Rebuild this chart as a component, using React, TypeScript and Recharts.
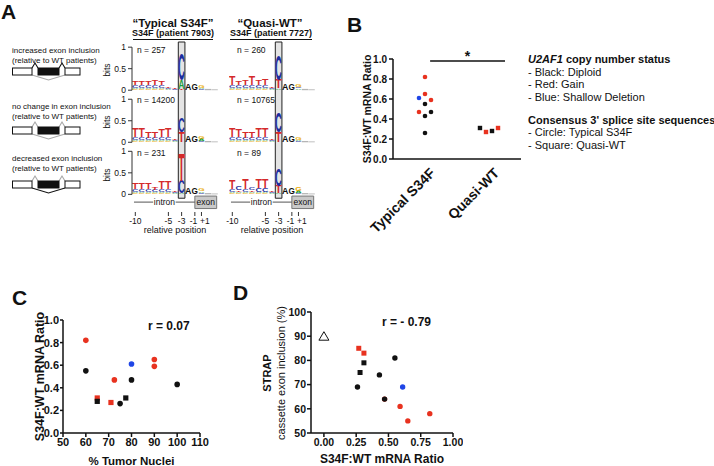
import React from 'react';
import {
  ComposedChart, Bar, XAxis, YAxis, ReferenceArea, ReferenceLine,
  ScatterChart, Scatter,
} from 'recharts';

const FONT = '"Liberation Sans", Arial, Helvetica, sans-serif';
const INK = '#111111';
const RED = '#e8321f';
const BLUE = '#1f45e6';

// ---------------- Panel A: sequence logos ----------------
const logoPositions = [-10, -9, -8, -7, -6, -5, -4, -3, -2, -1, 1, 2, 3];
const logoTickPositions = [-10, -5, -3, -1, 1];
const bitsTicks = [0, 0.5, 1];
type Stack = [string, number][];

// each stack: bottom -> top, [letter, bits]; lowercase = constant AG, n = minor (gray)
const typicalIncreased: Stack[] = [
  [['G', 0.02], ['A', 0.03], ['C', 0.07], ['T', 0.09]],
  [['G', 0.02], ['A', 0.03], ['C', 0.07], ['T', 0.10]],
  [['G', 0.02], ['A', 0.03], ['C', 0.07], ['T', 0.09]],
  [['G', 0.02], ['A', 0.03], ['C', 0.07], ['T', 0.11]],
  [['G', 0.02], ['A', 0.03], ['C', 0.06], ['T', 0.10]],
  [['G', 0.01], ['A', 0.02], ['C', 0.03], ['T', 0.03]],
  [['A', 0.01], ['C', 0.02], ['T', 0.02]],
  [['T', 0.02], ['A', 0.22], ['C', 0.62]],
  [['a', 0.15]],
  [['g', 0.15]],
  [['C', 0.02], ['A', 0.03], ['G', 0.05]],
  [['n', 0.03]],
  [['n', 0.02]],
];
const typicalNoChange: Stack[] = [
  [['G', 0.02], ['A', 0.03], ['C', 0.07], ['T', 0.20]],
  [['G', 0.02], ['A', 0.03], ['C', 0.07], ['T', 0.20]],
  [['G', 0.02], ['A', 0.03], ['C', 0.06], ['T', 0.14]],
  [['G', 0.02], ['A', 0.03], ['C', 0.06], ['T', 0.14]],
  [['G', 0.02], ['A', 0.03], ['C', 0.07], ['T', 0.18]],
  [['G', 0.02], ['A', 0.03], ['C', 0.07], ['T', 0.20]],
  [['G', 0.01], ['A', 0.02], ['C', 0.02], ['T', 0.03]],
  [['A', 0.01], ['T', 0.24], ['C', 0.33]],
  [['a', 0.15]],
  [['g', 0.15]],
  [['C', 0.02], ['A', 0.05], ['G', 0.07]],
  [['n', 0.03]],
  [['n', 0.02]],
];
const typicalDecreased: Stack[] = [
  [['G', 0.02], ['A', 0.03], ['C', 0.07], ['T', 0.16]],
  [['G', 0.02], ['A', 0.03], ['C', 0.07], ['T', 0.14]],
  [['G', 0.02], ['A', 0.03], ['C', 0.07], ['T', 0.16]],
  [['G', 0.02], ['A', 0.03], ['C', 0.06], ['T', 0.05]],
  [['G', 0.02], ['A', 0.03], ['C', 0.07], ['T', 0.18]],
  [['G', 0.02], ['A', 0.03], ['C', 0.07], ['T', 0.19]],
  [['G', 0.01], ['A', 0.02], ['C', 0.03], ['T', 0.03]],
  [['A', 0.02], ['C', 0.30], ['T', 0.65]],
  [['a', 0.15]],
  [['g', 0.15]],
  [['C', 0.03], ['A', 0.04], ['G', 0.06]],
  [['n', 0.03]],
  [['n', 0.02]],
];
const quasiIncreased: Stack[] = [
  [['G', 0.02], ['A', 0.03], ['C', 0.07], ['T', 0.20]],
  [['G', 0.02], ['A', 0.03], ['C', 0.07], ['T', 0.10]],
  [['G', 0.02], ['A', 0.03], ['C', 0.07], ['T', 0.12]],
  [['G', 0.02], ['A', 0.03], ['C', 0.07], ['T', 0.20]],
  [['G', 0.02], ['A', 0.03], ['C', 0.07], ['T', 0.12]],
  [['G', 0.02], ['A', 0.03], ['C', 0.07], ['T', 0.16]],
  [['G', 0.01], ['A', 0.02], ['C', 0.02], ['T', 0.03]],
  [['A', 0.04], ['T', 0.20], ['C', 0.58]],
  [['a', 0.15]],
  [['g', 0.15]],
  [['A', 0.04], ['C', 0.03], ['G', 0.07]],
  [['n', 0.03]],
  [['n', 0.02]],
];
const quasiNoChange: Stack[] = [
  [['G', 0.02], ['A', 0.03], ['C', 0.07], ['T', 0.20]],
  [['G', 0.02], ['A', 0.03], ['C', 0.07], ['T', 0.18]],
  [['G', 0.02], ['A', 0.03], ['C', 0.06], ['T', 0.14]],
  [['G', 0.02], ['A', 0.03], ['C', 0.06], ['T', 0.14]],
  [['G', 0.02], ['A', 0.03], ['C', 0.07], ['T', 0.20]],
  [['G', 0.02], ['A', 0.03], ['C', 0.07], ['T', 0.20]],
  [['G', 0.01], ['A', 0.02], ['C', 0.02], ['T', 0.03]],
  [['A', 0.01], ['T', 0.24], ['C', 0.45]],
  [['a', 0.15]],
  [['g', 0.15]],
  [['C', 0.02], ['A', 0.04], ['G', 0.07]],
  [['n', 0.03]],
  [['n', 0.02]],
];
const quasiDecreased: Stack[] = [
  [['G', 0.02], ['A', 0.03], ['C', 0.07], ['T', 0.20]],
  [['G', 0.02], ['A', 0.03], ['T', 0.04], ['C', 0.08]],
  [['G', 0.02], ['A', 0.03], ['C', 0.07], ['T', 0.25]],
  [['G', 0.02], ['A', 0.03], ['T', 0.04], ['C', 0.07]],
  [['G', 0.02], ['A', 0.03], ['C', 0.10], ['T', 0.20]],
  [['G', 0.02], ['A', 0.03], ['C', 0.10], ['T', 0.20]],
  [['G', 0.01], ['A', 0.02], ['C', 0.02], ['T', 0.03]],
  [['A', 0.02], ['T', 0.18], ['C', 0.40]],
  [['a', 0.15]],
  [['g', 0.15]],
  [['C', 0.03], ['A', 0.05], ['G', 0.08]],
  [['n', 0.03]],
  [['n', 0.02]],
];
const typicalCounts = ['n = 257', 'n = 14200', 'n = 231'];
const quasiCounts = ['n = 260', 'n = 10765', 'n = 89'];
const exonRowLabels = [
  ['increased exon inclusion', '(relative to WT patients)'],
  ['no change in exon inclusion', '(relative to WT patients)'],
  ['decreased exon inclusion', '(relative to WT patients)'],
];

// ---------------- Panels B-D: per-sample values ----------------
const sampleRatio = [0.82, 0.65, 0.61, 0.59, 0.55, 0.47, 0.47, 0.43, 0.26, 0.31, 0.27, 0.31, 0.28];
const sampleCopy = ['gain', 'gain', 'shallow', 'gain', 'diploid', 'gain', 'diploid', 'diploid', 'diploid', 'diploid', 'gain', 'gain', 'diploid'];
const sampleClass = ['typical', 'typical', 'typical', 'typical', 'typical', 'typical', 'typical', 'typical', 'typical', 'quasi', 'quasi', 'quasi', 'quasi'];
const sampleColumnSlot = [0, 0, -1, 1, 0, -1, 1, 0, 0, -1.5, -0.5, 1.5, 0.5];
const sampleTumorNuclei = [60, 90, 80, 90, 60, 72.5, 80, 100, 75, 77.5, 71, 65, 65];
const sampleStrapInclusion = [58, 55, 69, 61, 81, 64, 64, 74, 69, 79, 85, 83, 75];
const wtReference = [{ x: 0, y: 90 }];
const bCategories = ['Typical S34F', 'Quasi-WT'];
const ratioTicks = [0, 0.2, 0.4, 0.6, 0.8, 1.0];
const nucleiTicks = [50, 60, 70, 80, 90, 100, 110];
const strapTicks = [50, 60, 70, 80, 90, 100];
const ratioTicksD = [0, 0.25, 0.5, 0.75, 1.0];

const copyColor = (c: string) => (c === 'gain' ? RED : c === 'shallow' ? BLUE : INK);

// ---------------- Logo helpers ----------------
const ROW_STEP = 1.21;
const MAXL = 4;
const toIdx = (p: number) => (p < 0 ? p : p - 1);
const LETTER_COLOR: Record<string, string> = { A: '#1f9e3a', C: '#1c2d9e', G: '#e9a800', T: '#d42a2a' };
const ADV: Record<string, number> = { A: 0.722, C: 0.722, G: 0.778, T: 0.611 };

function buildLogoTable(rowsTopDown: Stack[][]) {
  const rows = [...rowsTopDown].reverse();
  return logoPositions.map((pos, i) => {
    const e: any = { idx: toIdx(pos) };
    rows.forEach((row, r) => {
      const st = row[i];
      let sum = 0;
      for (let k = 0; k < MAXL; k++) {
        const it = st[k];
        e[`h${r}_${k}`] = it ? it[1] : 0;
        e[`l${r}_${k}`] = it ? it[0] : '';
        sum += it ? it[1] : 0;
      }
      if (r < rows.length - 1) e[`gap${r}`] = ROW_STEP - sum;
    });
    return e;
  });
}

function Glyph({ x, y, w, h, letter }: any) {
  if (letter === 'n') return <rect x={x} y={y} width={w} height={h} fill="#b5b5b5" />;
  const up = letter.toUpperCase();
  const color = letter === up ? LETTER_COLOR[up] : INK;
  const sx = w / (ADV[up] * 100);
  const sy = h / (0.716 * 100);
  return (
    <text
      transform={`translate(${x},${y + h}) scale(${sx},${sy})`}
      fontSize={100}
      fontWeight="bold"
      fontFamily={FONT}
      fill={color}
    >
      {up}
    </text>
  );
}

const makeLetterShape = (r: number, k: number) => (props: any) => {
  const { x, y, width, height, payload } = props;
  const L = payload ? payload[`l${r}_${k}`] : '';
  if (!L || !(height > 0.3)) return <g />;
  return <Glyph x={x} y={y} w={width} h={height} letter={L} />;
};

const PosTick = (props: any) => {
  const { x, y, payload } = props;
  const v = payload.value;
  const label = v >= 0 ? `+${v + 1}` : `${v}`;
  let anchor: any = 'middle';
  let dx = 0;
  if (v === -1) { anchor = 'end'; dx = 2.5; }
  if (v === 0) { anchor = 'start'; dx = -1.5; }
  return (
    <text x={x + dx} y={y} dy="0.71em" textAnchor={anchor} fontSize={8.5} fill={INK} fontFamily={FONT}>
      {label}
    </text>
  );
};

const baselines = [0, ROW_STEP, ROW_STEP * 2];

function LogoColumn({ rows, withAxis, left }: { rows: Stack[][]; withAxis: boolean; left: number }) {
  const data = buildLogoTable(rows);
  const yAxisW = withAxis ? 32 : 0;
  const marginLeft = withAxis ? 0 : 8;
  const width = marginLeft + yAxisW + 86 + 7;
  const bars: React.ReactNode[] = [];
  for (let r = 0; r < 3; r++) {
    for (let k = 0; k < MAXL; k++) {
      bars.push(
        <Bar key={`b${r}_${k}`} dataKey={`h${r}_${k}`} stackId="logo" barSize={6.4}
          isAnimationActive={false} shape={makeLetterShape(r, k)} />
      );
    }
    if (r < 2) {
      bars.push(
        <Bar key={`gap${r}`} dataKey={`gap${r}`} stackId="logo" barSize={6.4}
          isAnimationActive={false} shape={() => <g />} />
      );
    }
  }
  const yTicks = baselines.flatMap((b) => bitsTicks.map((t) => +(b + t).toFixed(3)));
  return (
    <div style={{ position: 'absolute', left: left - marginLeft, top: 36 }}>
      <ComposedChart width={width} height={202} data={data} margin={{ top: 6, right: 7, bottom: 0, left: marginLeft }}>
        <XAxis dataKey="idx" type="number" domain={[-10.5, 2.5]} allowDataOverflow
          ticks={logoTickPositions.map(toIdx)} interval={0} tick={<PosTick />}
          tickLine={{ stroke: '#333' }} tickSize={4} tickMargin={2} axisLine={false} height={26}
          label={{ value: 'relative position', position: 'insideBottom', offset: 5, fontSize: 9, fill: INK, fontFamily: FONT }} />
        <YAxis type="number" domain={[-0.41, 3.54]} allowDataOverflow hide={!withAxis} width={yAxisW}
          ticks={yTicks} interval={0} tickFormatter={(v: any, i: number) => String(bitsTicks[i % 3])}
          tickSize={4} tickMargin={2} axisLine={false} tickLine={{ stroke: '#333' }}
          tick={{ fontSize: 8.5, fill: INK, fontFamily: FONT }} />
        <ReferenceArea x1={-3.5} x2={-2.5} y1={-0.09} y2={3.54} fill="#e4e4e4" fillOpacity={1}
          stroke="#222" strokeWidth={1} ifOverflow="visible" />
        {bars}
        {withAxis && baselines.map((b, i) => (
          <ReferenceLine key={`ax${i}`} segment={[{ x: -10.5, y: b }, { x: -10.5, y: b + 1 }]}
            stroke="#333" strokeWidth={1} ifOverflow="visible" />
        ))}
        <ReferenceLine segment={[{ x: -10.2, y: -0.18 }, { x: -7.3, y: -0.18 }]} stroke="#555" strokeWidth={1} ifOverflow="visible" />
        <ReferenceLine segment={[{ x: -3.9, y: -0.18 }, { x: -1.0, y: -0.18 }]} stroke="#555" strokeWidth={1} ifOverflow="visible" />
        <ReferenceArea x1={-7.3} x2={-3.9} y1={-0.3} y2={-0.06} fill="none" stroke="none" ifOverflow="visible"
          label={{ value: 'intron', position: 'center', fontSize: 8.5, fill: INK, fontFamily: FONT }} />
        <ReferenceArea x1={-1.0} x2={2.3} y1={-0.33} y2={-0.04} fill="#c9c9c9" fillOpacity={1} stroke="#777"
          strokeWidth={1} ifOverflow="visible"
          label={{ value: 'exon', position: 'center', fontSize: 8.5, fill: INK, fontFamily: FONT }} />
      </ComposedChart>
    </div>
  );
}

// ---------------- Scatter helpers ----------------
const samples = sampleRatio.map((v, i) => ({
  ratio: v,
  copy: sampleCopy[i],
  cls: sampleClass[i],
  slot: sampleColumnSlot[i],
  nuclei: sampleTumorNuclei[i],
  strap: sampleStrapInclusion[i],
}));
const SLOT_W = 0.094;
const bPoints = samples.map((s) => ({
  x: (s.cls === 'typical' ? 0.5 : 1.5) + s.slot * SLOT_W,
  y: s.ratio, copy: s.copy, cls: s.cls,
}));
const cPoints = samples.map((s) => ({ x: s.nuclei, y: s.ratio, copy: s.copy, cls: s.cls }));
const dPoints = samples.map((s) => ({ x: s.ratio, y: s.strap, copy: s.copy, cls: s.cls }));

const makeMarker = (r: number, sq: number) => (props: any) => {
  const { cx, cy, payload } = props;
  const fill = copyColor(payload.copy);
  if (payload.cls === 'quasi') {
    return <rect x={cx - sq / 2} y={cy - sq / 2} width={sq} height={sq} fill={fill} />;
  }
  return <circle cx={cx} cy={cy} r={r} fill={fill} />;
};

const Triangle = (props: any) => {
  const { cx, cy } = props;
  return <polygon points={`${cx},${cy - 4.5} ${cx - 5},${cy + 4} ${cx + 5},${cy + 4}`} fill="#fff" stroke={INK} strokeWidth={1} />;
};

const axisStroke = { stroke: INK, strokeWidth: 1.5 };
const boldTick = (size: number) => ({ fontSize: size, fontWeight: 'bold', fill: INK, fontFamily: FONT });

// ---------------- Text overlay helpers ----------------
function Txt({ x, y, size, bold, italic, anchor, children }: any) {
  const top = y - 0.846 * size;
  return (
    <div style={{
      position: 'absolute', left: x, top, fontSize: size, lineHeight: 1,
      fontWeight: bold ? 'bold' : 'normal', fontStyle: italic ? 'italic' : 'normal',
      whiteSpace: 'nowrap', color: INK, fontFamily: FONT,
      transform: anchor === 'middle' ? 'translateX(-50%)' : undefined,
    }}>
      {children}
    </div>
  );
}
function RotTxt({ cx, cy, size, bold, children }: any) {
  return (
    <div style={{
      position: 'absolute', left: cx, top: cy, fontSize: size, lineHeight: 1,
      fontWeight: bold ? 'bold' : 'normal', whiteSpace: 'nowrap', color: INK, fontFamily: FONT,
      transform: 'translate(-50%, -50%) rotate(-90deg)',
    }}>
      {children}
    </div>
  );
}

function ExonDiagrams() {
  const tops = [68, 127, 181];
  const incl = [INK, '#a8a8a8', '#a8a8a8'];
  const skip = ['#a8a8a8', '#a8a8a8', INK];
  return (
    <svg width={100} height={200} style={{ position: 'absolute', left: 0, top: 0 }}>
      {tops.map((t, i) => (
        <g key={i}>
          <polyline points={`32,${t} 35,${t - 5} 38,${t}`} fill="none" stroke={incl[i]} strokeWidth={1.1} />
          <polyline points={`59,${t} 62,${t - 5} 65,${t}`} fill="none" stroke={incl[i]} strokeWidth={1.1} />
          <polyline points={`32,${t + 7} 48.5,${t + 12} 65,${t + 7}`} fill="none" stroke={skip[i]} strokeWidth={1.1} />
          <rect x={12.5} y={t} width={19.5} height={7} fill="#fff" stroke={INK} strokeWidth={1} />
          <rect x={38} y={t} width={21} height={7} fill={INK} stroke={INK} strokeWidth={1} />
          <rect x={65} y={t} width={15} height={7} fill="#fff" stroke={INK} strokeWidth={1} />
        </g>
      ))}
    </svg>
  );
}

export default function App() {
  const leftBase = [54, 109.5, 162];
  const countBase = [53, 103.5, 156];
  return (
    <div style={{ position: 'absolute', left: 0, top: 0, width: 714, height: 466, background: '#fff', overflow: 'hidden', fontFamily: FONT }}>
      {/* Panel A */}
      <ExonDiagrams />
      <LogoColumn rows={[typicalIncreased, typicalNoChange, typicalDecreased]} withAxis left={100} />
      <LogoColumn rows={[quasiIncreased, quasiNoChange, quasiDecreased]} withAxis={false} left={229} />

      {/* Panel B */}
      <div style={{ position: 'absolute', left: 340, top: 40 }}>
        <ScatterChart width={190} height={199} margin={{ top: 19, right: 9, bottom: 0, left: 0 }}>
          <XAxis type="number" dataKey="x" domain={[0, 2]} ticks={[0.5, 1.5]} interval={0}
            tickFormatter={(v: number) => bCategories[v < 1 ? 0 : 1]}
            angle={-45} textAnchor="end" dx={4} dy={6}
            tick={{ fontSize: 14, fontWeight: 'bold', fill: INK, fontFamily: FONT, textAnchor: 'end' }}
            tickLine={false} tickSize={0} tickMargin={2} axisLine={axisStroke} height={80} />
          <YAxis type="number" dataKey="y" domain={[0, 1]} ticks={ratioTicks} interval={0}
            tickFormatter={(v: number) => v.toFixed(1)} width={53} tickSize={4} tickMargin={2}
            axisLine={axisStroke} tickLine={axisStroke} tick={boldTick(10)}
            label={{ value: 'S34F:WT mRNA Ratio', angle: -90, position: 'insideLeft', offset: 27,
              style: { textAnchor: 'middle', fontSize: 10.5, fontWeight: 'bold', fill: INK, fontFamily: FONT } }} />
          <ReferenceLine segment={[{ x: 0.58, y: 0.98 }, { x: 1.75, y: 0.98 }]} stroke={INK} strokeWidth={1.3}
            label={{ value: '*', position: 'top', offset: 0, fontSize: 14, fontWeight: 'bold', fill: INK, fontFamily: FONT }} />
          <Scatter data={bPoints} shape={makeMarker(2.3, 4.4)} isAnimationActive={false} />
        </ScatterChart>
      </div>

      {/* Panel C */}
      <div style={{ position: 'absolute', left: 0, top: 296 }}>
        <ScatterChart width={210} height={170} margin={{ top: 24, right: 10, bottom: 0, left: 0 }}>
          <XAxis type="number" dataKey="x" domain={[50, 110]} ticks={nucleiTicks} interval={0} height={33}
            tickSize={4} tickMargin={1} axisLine={axisStroke} tickLine={axisStroke} tick={boldTick(11)}
            label={{ value: '% Tumor Nuclei', position: 'insideBottom', offset: 1, fontSize: 11.5, fontWeight: 'bold', fill: INK, fontFamily: FONT }} />
          <YAxis type="number" dataKey="y" domain={[0, 1]} ticks={ratioTicks} interval={0}
            tickFormatter={(v: number) => v.toFixed(1)} width={63} tickSize={3} tickMargin={1}
            axisLine={axisStroke} tickLine={axisStroke} tick={boldTick(11)}
            label={{ value: 'S34F:WT mRNA Ratio', angle: -90, position: 'insideLeft', offset: 40,
              style: { textAnchor: 'middle', fontSize: 12.5, fontWeight: 'bold', fill: INK, fontFamily: FONT } }} />
          <Scatter data={cPoints} shape={makeMarker(2.8, 5.2)} isAnimationActive={false} />
        </ScatterChart>
      </div>

      {/* Panel D */}
      <div style={{ position: 'absolute', left: 240, top: 290 }}>
        <ScatterChart width={223} height={176} margin={{ top: 22, right: 10, bottom: 0, left: 0 }}>
          <XAxis type="number" dataKey="x" domain={[-0.1, 1]} allowDataOverflow ticks={ratioTicksD} interval={0}
            tickFormatter={(v: number) => v.toFixed(2)} height={33} tickSize={4} tickMargin={2}
            axisLine={axisStroke} tickLine={axisStroke} tick={boldTick(10.5)}
            label={{ value: 'S34F:WT mRNA Ratio', position: 'insideBottom', offset: 3, fontSize: 12, fontWeight: 'bold', fill: INK, fontFamily: FONT }} />
          <YAxis type="number" dataKey="y" domain={[50, 100]} ticks={strapTicks} interval={0} width={71}
            tickSize={4} tickMargin={1} axisLine={axisStroke} tickLine={axisStroke} tick={boldTick(10.5)} />
          <Scatter data={wtReference} shape={<Triangle />} isAnimationActive={false} />
          <Scatter data={dPoints} shape={makeMarker(2.7, 5)} isAnimationActive={false} />
        </ScatterChart>
      </div>

      {/* Panel letters */}
      <Txt x={1} y={18.5} size={21} bold>A</Txt>
      <Txt x={347} y={32} size={21} bold>B</Txt>
      <Txt x={12} y={305} size={21} bold>C</Txt>
      <Txt x={233} y={300} size={21} bold>D</Txt>

      {/* Panel A texts */}
      {exonRowLabels.map((lines, i) => (
        <React.Fragment key={i}>
          <Txt x={12} y={leftBase[i]} size={8}>{lines[0]}</Txt>
          <Txt x={12} y={leftBase[i] + 10} size={8}>{lines[1]}</Txt>
        </React.Fragment>
      ))}
      <Txt x={173} y={28} size={11.5} bold anchor="middle">“Typical S34F”</Txt>
      <Txt x={173} y={36.5} size={9} bold anchor="middle">S34F (patient 7903)</Txt>
      <div style={{ position: 'absolute', left: 133, top: 38.5, width: 80, height: 1, background: INK }} />
      <Txt x={270} y={28} size={11.5} bold anchor="middle">“Quasi-WT”</Txt>
      <Txt x={271} y={36.5} size={9} bold anchor="middle">S34F (patient 7727)</Txt>
      <div style={{ position: 'absolute', left: 230, top: 38.5, width: 82, height: 1, background: INK }} />
      {typicalCounts.map((t, i) => <Txt key={`tc${i}`} x={137} y={countBase[i]} size={8.5}>{t}</Txt>)}
      {quasiCounts.map((t, i) => <Txt key={`qc${i}`} x={237} y={countBase[i]} size={8.5}>{t}</Txt>)}
      {[70, 122, 175].map((cy, i) => <RotTxt key={`bits${i}`} cx={107} cy={cy} size={8.5}>bits</RotTxt>)}

      {/* Panel B legend */}
      <Txt x={528} y={63.5} size={11} bold><span style={{ fontStyle: 'italic' }}>U2AF1</span> copy number status</Txt>
      <Txt x={528} y={76} size={11}>- Black: Diploid</Txt>
      <Txt x={528} y={88.5} size={11}>- Red: Gain</Txt>
      <Txt x={528} y={101} size={11}>- Blue: Shallow Deletion</Txt>
      <Txt x={528} y={124} size={11} bold>Consensus 3' splice site sequences</Txt>
      <Txt x={528} y={136.5} size={11}>- Circle: Typical S34F</Txt>
      <Txt x={528} y={149} size={11}>- Square: Quasi-WT</Txt>

      {/* Panel C/D annotations */}
      <Txt x={148} y={330} size={12} bold>r = 0.07</Txt>
      <Txt x={382} y={326} size={12} bold>r = - 0.79</Txt>
      <RotTxt cx={267} cy={373} size={11} bold>STRAP</RotTxt>
      <RotTxt cx={281} cy={373} size={11}>cassette exon inclusion (%)</RotTxt>
    </div>
  );
}
